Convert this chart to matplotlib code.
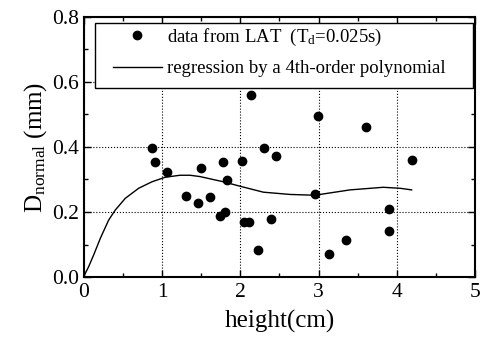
import numpy as np
import matplotlib.pyplot as plt
from matplotlib.ticker import MultipleLocator
from matplotlib.patches import Rectangle

plt.rcParams['font.family'] = 'Liberation Serif'
plt.rcParams['mathtext.fontset'] = 'custom'
plt.rcParams['mathtext.rm'] = 'Liberation Serif'
plt.rcParams['mathtext.it'] = 'Liberation Serif'

# measured points (LAT, Td = 0.025 s)
height = [0.873, 0.904, 1.057, 1.304, 1.454, 1.492, 1.611, 1.735, 1.799, 1.773,
          1.833, 2.020, 2.042, 2.114, 2.225, 2.140, 2.306, 2.387, 2.459, 2.954,
          2.992, 3.133, 3.346, 3.602, 3.905, 3.905, 4.190]
d_normal = [0.398, 0.355, 0.323, 0.249, 0.228, 0.334, 0.246, 0.189, 0.200, 0.355,
            0.298, 0.358, 0.170, 0.170, 0.082, 0.560, 0.396, 0.180, 0.371, 0.256,
            0.495, 0.072, 0.115, 0.462, 0.208, 0.142, 0.361]

# 4th-order regression curve
fit_x = [0.0, 0.06, 0.124, 0.209, 0.315, 0.40, 0.528, 0.699, 0.870, 1.04,
         1.228, 1.356, 1.483, 1.781, 2.016, 2.293, 2.634, 2.890, 3.018, 3.402,
         3.827, 4.041, 4.19]
fit_y = [0.003, 0.032, 0.068, 0.119, 0.175, 0.206, 0.242, 0.273, 0.293, 0.307,
         0.313, 0.313, 0.309, 0.293, 0.278, 0.261, 0.254, 0.252, 0.254, 0.268,
         0.276, 0.273, 0.268]

fig = plt.figure(figsize=(4.81, 3.45), dpi=100)
ax = fig.add_axes([0.1746, 0.197, 0.8129, 0.754])

ax.plot(height, d_normal, 'o', color='black', markersize=6,
        label=r'data from LAT  (T$_{\rm d}$=0.025s)')
ax.plot(fit_x, fit_y, '-', color='black', linewidth=1.0,
        label='regression by a 4th-order polynomial')

ax.set_xlim(0, 5)
ax.set_ylim(0, 0.8)
ax.xaxis.set_major_locator(MultipleLocator(1))
ax.xaxis.set_minor_locator(MultipleLocator(0.5))
ax.yaxis.set_minor_locator(MultipleLocator(0.1))
ax.set_yticks([0, 0.2, 0.4, 0.6, 0.8])
ax.set_yticklabels(['0.0', '0.2', '0.4', '0.6', '0.8'])

ax.tick_params(which='both', direction='in', top=True, right=True, labelsize=15.5)
ax.tick_params(which='major', length=5, width=1)
ax.tick_params(which='minor', length=3, width=1)
ax.tick_params(axis='x', pad=4)
for s in ax.spines.values():
    s.set_linewidth(1.5)

ax.grid(True, which='major', linestyle=':', color='black', linewidth=0.8)

ax.set_xlabel('height(cm)', fontsize=18, labelpad=6)
ax.set_ylabel(r'D$_{\rm normal}$ (mm)', fontsize=18, labelpad=2)

# legend box drawn separately so the entries can sit inset from the frame
box = Rectangle((0.028, 0.727), 0.967, 0.25, transform=ax.transAxes,
                facecolor='white', edgecolor='black', linewidth=1.0, zorder=4)
ax.add_patch(box)
leg = ax.legend(loc='upper left', bbox_to_anchor=(0.074, 0.962),
                fontsize=13.5, frameon=False, borderaxespad=0, borderpad=0,
                handlelength=2.6, handletextpad=0.3, labelspacing=0.65)
leg.set_zorder(5)

fig.savefig('out.png', dpi=100)
